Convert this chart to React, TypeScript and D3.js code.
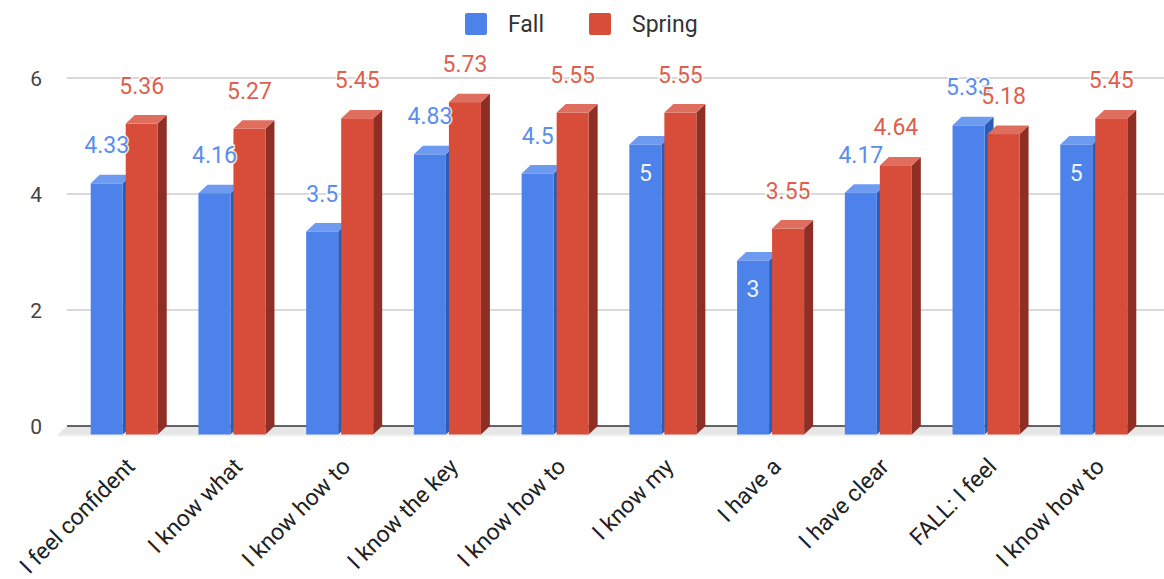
import React, { useRef, useEffect } from 'react';
import * as d3 from 'd3';

// category labels (truncated, as shown on the chart)
const categories = [
  'I feel confident',
  'I know what',
  'I know how to',
  'I know the key',
  'I know how to',
  'I know my',
  'I have a',
  'I have clear',
  'FALL: I feel',
  'I know how to',
];
const seriesNames = ['Fall', 'Spring'];
const fallValues = [4.33, 4.16, 3.5, 4.83, 4.5, 5, 3, 4.17, 5.33, 5];
const springValues = [5.36, 5.27, 5.45, 5.73, 5.55, 5.55, 3.55, 4.64, 5.18, 5.45];
const yTicks = [0, 2, 4, 6];

const W = 1164;
const H = 579;
const FONT = 'Roboto, Arial, sans-serif';

// face colours for the 3D columns: front, top, side, label
const palette: Record<string, { front: string; top: string; side: string; label: string }> = {
  Fall: { front: '#4d82ea', top: '#6e9bf0', side: '#2c5cb5', label: '#5b8def' },
  Spring: { front: '#d74d3a', top: '#e06e5f', side: '#8e2e24', label: '#df5f4e' },
};

export default function App() {
  const svgRef = useRef<SVGSVGElement>(null);

  useEffect(() => {
    const svg = d3.select(svgRef.current);
    svg.selectAll('*').remove();

    const dx = 9; // depth offset
    const dy = 8.5;
    const backLeft = 67;

    const y = d3.scaleLinear().domain([0, 6]).range([426, 78]); // back wall
    const yf = (v: number) => y(v) + dy; // front plane

    const x = d3.scaleBand<number>()
      .domain(d3.range(categories.length))
      .range([50, 1168])
      .paddingInner(0.378)
      .paddingOuter(0.378);
    const xs = d3.scaleBand<string>()
      .domain(seriesNames)
      .range([0, x.bandwidth()])
      .paddingInner(0.0857);

    // gridlines + y ticks
    svg.append('g')
      .selectAll('line')
      .data(yTicks.filter(t => t !== 0))
      .join('line')
      .attr('x1', backLeft)
      .attr('x2', W)
      .attr('y1', d => y(d))
      .attr('y2', d => y(d))
      .attr('stroke', '#cccccc')
      .attr('stroke-width', 1.5);

    svg.append('g')
      .selectAll('text')
      .data(yTicks)
      .join('text')
      .attr('x', 42)
      .attr('y', d => y(d))
      .attr('dy', '0.36em')
      .attr('text-anchor', 'end')
      .attr('font-family', FONT)
      .attr('font-size', 21)
      .attr('fill', '#444')
      .text(d => d);

    // floor
    const f0 = y(0);
    svg.append('polygon')
      .attr('points', `${backLeft},${f0} ${W},${f0} ${W},${f0 + dy + 2} ${backLeft - dx - 2},${f0 + dy + 2}`)
      .attr('fill', '#f1f1f1');
    svg.append('polygon')
      .attr('points', `${backLeft},${f0} ${W},${f0} ${W},${f0 + dy} ${backLeft - dx},${f0 + dy}`)
      .attr('fill', '#e6e6e6');
    svg.append('line')
      .attr('x1', backLeft)
      .attr('x2', W)
      .attr('y1', f0)
      .attr('y2', f0)
      .attr('stroke', '#333')
      .attr('stroke-width', 1.5);

    const rows = categories.map((c, i) => ({ i, values: [fallValues[i], springValues[i]] }));
    const bars = rows.flatMap(r => seriesNames.map((s, k) => ({ i: r.i, s, v: r.values[k] })));

    const barsG = svg.append('g');
    const bw = xs.bandwidth();
    bars.forEach(b => {
      const x0 = (x(b.i) as number) + (xs(b.s) as number);
      const top = yf(b.v);
      const bottom = yf(0);
      const c = palette[b.s];
      const g = barsG.append('g');
      g.append('polygon')
        .attr('points', `${x0 + bw},${top} ${x0 + bw + dx},${top - dy} ${x0 + bw + dx},${bottom - dy} ${x0 + bw},${bottom}`)
        .attr('fill', c.side);
      g.append('polygon')
        .attr('points', `${x0},${top} ${x0 + dx},${top - dy} ${x0 + bw + dx},${top - dy} ${x0 + bw},${top}`)
        .attr('fill', c.top);
      g.append('rect')
        .attr('x', x0)
        .attr('y', top)
        .attr('width', bw)
        .attr('height', bottom - top)
        .attr('fill', c.front);
    });

    // data labels: inside the column when the text fits, above otherwise
    const labelsG = svg.append('g')
      .attr('font-family', FONT)
      .attr('font-size', 23)
      .attr('text-anchor', 'middle');
    seriesNames.forEach(s => {
      bars.filter(b => b.s === s).forEach(b => {
        const cx = (x(b.i) as number) + (xs(b.s) as number) + bw / 2;
        const top = yf(b.v);
        const txt = String(b.v);
        const inside = txt.length === 1;
        const t = labelsG.append('text')
          .attr('x', cx)
          .attr('y', inside ? top + 36 : top - 30)
          .text(txt);
        if (inside) {
          t.attr('fill', '#ffffff').attr('fill-opacity', 0.92);
        } else {
          t.attr('fill', palette[s].label)
            .attr('stroke', '#ffffff')
            .attr('stroke-width', 3)
            .attr('stroke-opacity', 0.85)
            .attr('paint-order', 'stroke');
        }
      });
    });

    // category labels, slanted
    svg.append('g')
      .selectAll('text')
      .data(categories.map((c, i) => ({ c, i })))
      .join('text')
      .attr('transform', d => {
        const cx = (x(d.i) as number) + x.bandwidth() / 2;
        return `translate(${cx + 12},${468}) rotate(-45)`;
      })
      .attr('text-anchor', 'end')
      .attr('font-family', FONT)
      .attr('font-size', 23)
      .attr('fill', '#222')
      .text(d => d.c);

    // legend
    const legend = svg.append('g').attr('font-family', FONT).attr('font-size', 23).attr('fill', '#333');
    const legendX = [465, 589];
    seriesNames.forEach((s, k) => {
      legend.append('rect')
        .attr('x', legendX[k])
        .attr('y', 13)
        .attr('width', 22)
        .attr('height', 22)
        .attr('rx', 2)
        .attr('fill', palette[s].front);
      legend.append('text')
        .attr('x', legendX[k] + 43)
        .attr('y', 24)
        .attr('dy', '0.36em')
        .text(s);
    });
  }, []);

  return (
    <svg
      ref={svgRef}
      width={W}
      height={H}
      style={{ position: 'absolute', left: 0, top: 0, background: '#fff', display: 'block' }}
    ></svg>
  );
}
